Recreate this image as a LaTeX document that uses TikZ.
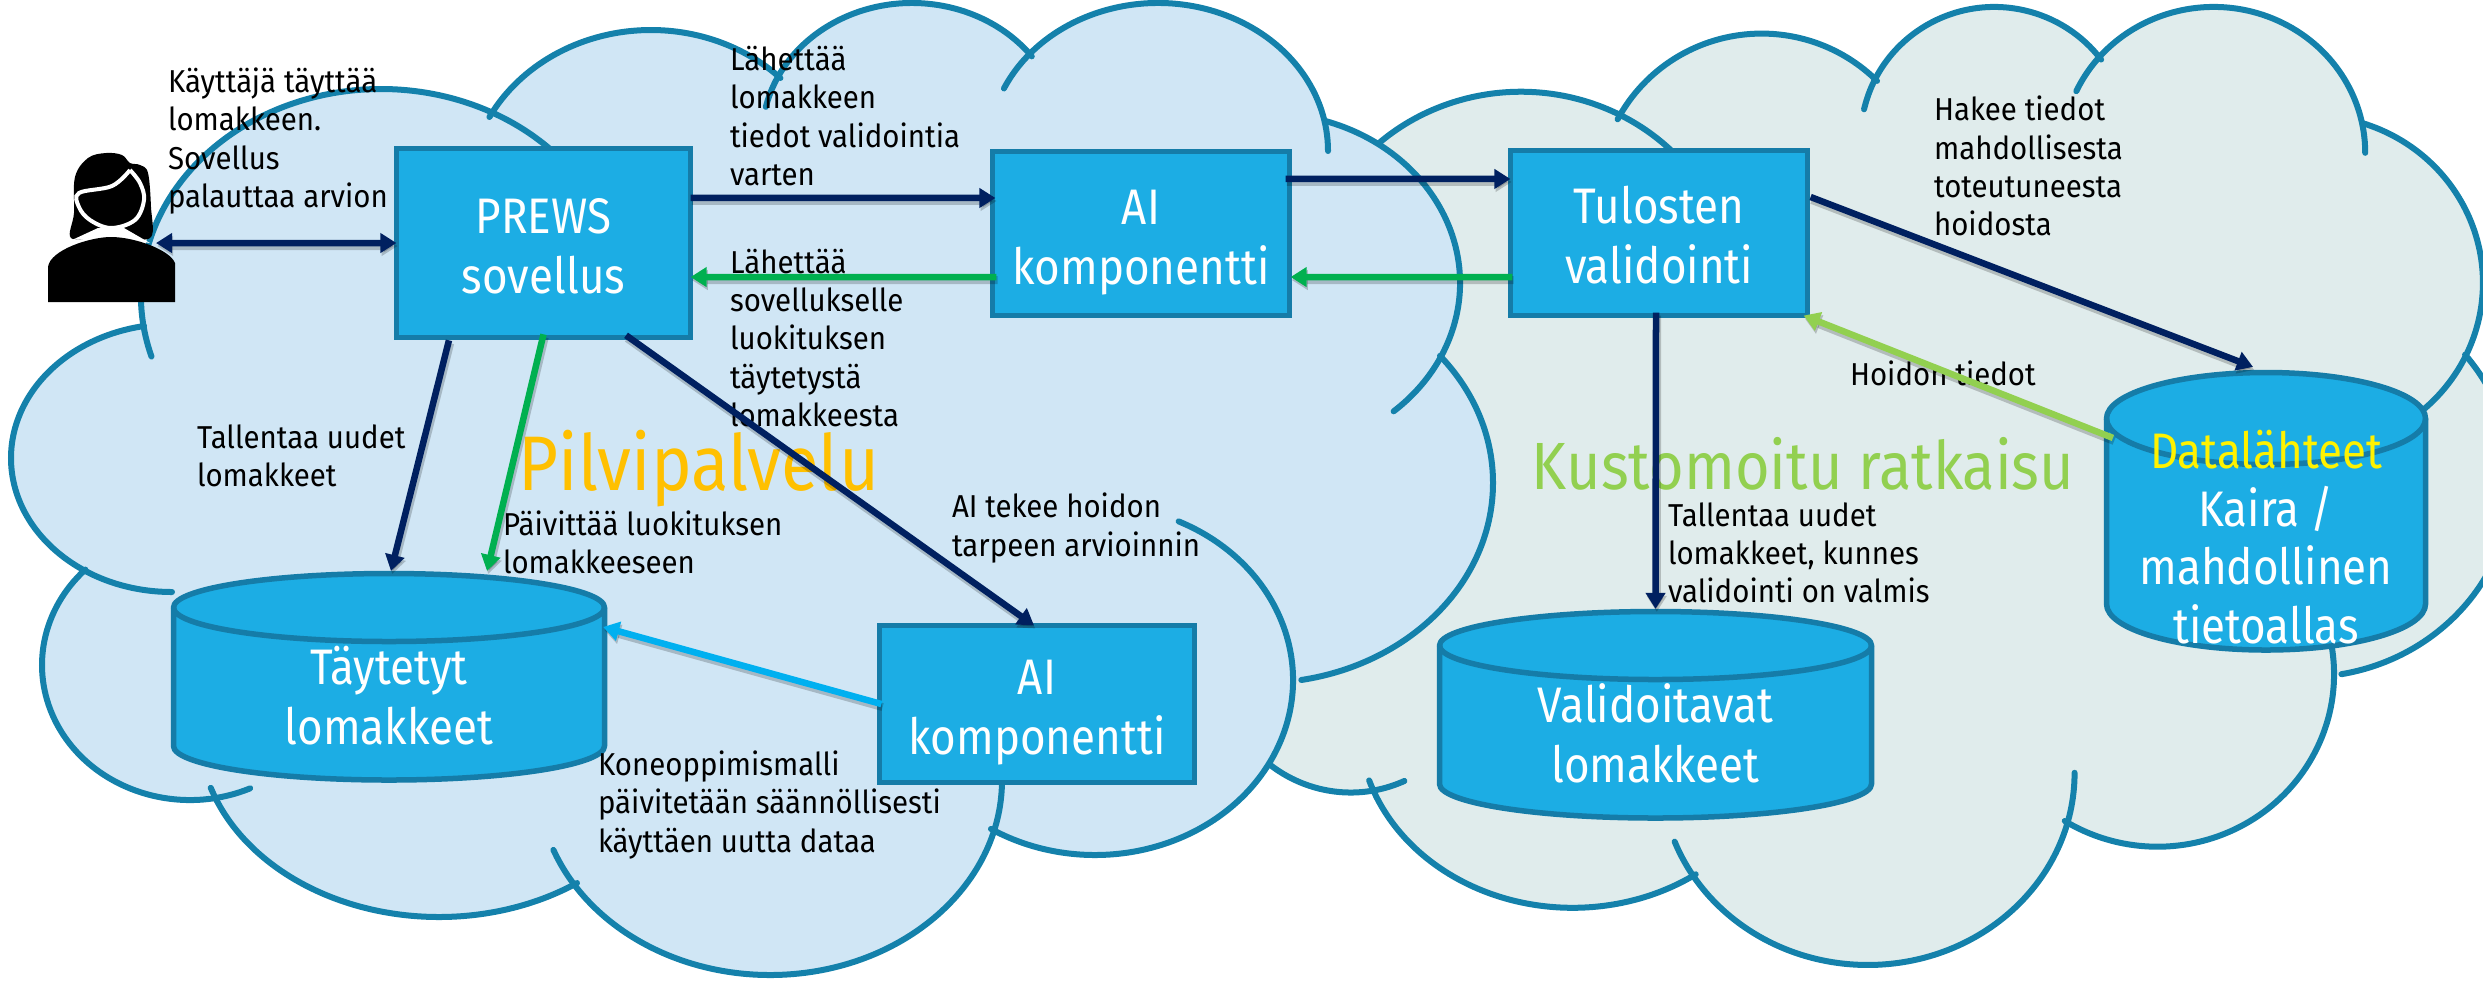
\documentclass[tikz,border=0pt]{standalone}
\usepackage{fontspec}
\setmainfont{Fira Sans}
\newfontfamily\notefont[FakeStretch=.93]{Fira Sans}
\newfontfamily\boxfont[FakeStretch=.88]{Fira Sans}
\newfontfamily\bigfont[FakeStretch=.89]{Fira Sans}
\usetikzlibrary{arrows.meta}
\definecolor{boxfill}{HTML}{1CADE4}
\definecolor{boxline}{HTML}{157CA8}
\definecolor{cloudline}{HTML}{1481AB}
\definecolor{cloudL}{HTML}{D0E6F5}
\definecolor{cloudR}{HTML}{E0ECEC}
\definecolor{navy}{HTML}{002060}
\definecolor{greenA}{HTML}{00B050}
\definecolor{greenB}{HTML}{92D050}
\definecolor{lblue}{HTML}{00B0F0}
\definecolor{gold}{HTML}{FFC000}
\newcommand{\topst}{\rule{0pt}{1em}}
\newcommand{\topbx}{\rule{0pt}{\dimexpr1em+.04cm\relax}}
\newcommand{\botst}{\rule[-.25em]{0pt}{.5em}}
\tikzset{
  lobe/.style={draw=cloudline,line width=.06cm,line cap=round,line join=round},
  procbox/.style={draw=boxline,fill=boxfill,line width=.055cm,rectangle,inner sep=0pt,outer sep=0pt,text=white,align=center,font=\boxfont\fontsize{14.2}{17}\selectfont},
  cantext/.style={rectangle,inner sep=0pt,outer sep=0pt,text=white,align=center,font=\boxfont\fontsize{14.2}{17}\selectfont},
  canshape/.style={draw=boxline,fill=boxfill,line width=.055cm,line join=round},
  note/.style={inner sep=0pt,outer sep=0pt,text=black,align=left,anchor=west,font=\notefont\fontsize{9}{10.85}\selectfont},
  big/.style={inner sep=0pt,outer sep=0pt,anchor=center,font=\bigfont\fontsize{22}{26}\selectfont},
  bigb/.style={inner sep=0pt,outer sep=0pt,anchor=center,font=\bigfont\fontsize{19}{23}\selectfont},
  conn/.style={line width=.065cm,-{Triangle[length=.16cm,width=.19cm]},
     preaction={draw=black,opacity=.2,line width=.08cm,transform canvas={xshift=.012cm,yshift=-.03cm}}},
  connb/.style={line width=.065cm,{Triangle[length=.16cm,width=.19cm]}-{Triangle[length=.16cm,width=.19cm]},
     preaction={draw=black,opacity=.2,line width=.08cm,transform canvas={xshift=.012cm,yshift=-.03cm}}},
}
\newcommand{\candraw}[5]{%
  \draw[canshape] ({#1-#3},{#2+#4}) arc[start angle=180,end angle=360,x radius=#3,y radius=#4]
     -- ({#1+#3},{#5-#4}) arc[start angle=0,end angle=180,x radius=#3,y radius=#4] -- cycle;
  \draw[canshape,fill=none] ({#1-#3},{#2+#4}) arc[start angle=180,end angle=0,x radius=#3,y radius=#4];
}
% one lobe: cx cy rx ry start end
\newcommand{\seg}[6]{({#1+#3*cos(#5)},{#2+#4*sin(#5)}) arc[start angle=#5,end angle=#6,x radius=#3,y radius=#4]}
\newcommand{\cloudbody}[1]{%
  \fill[#1] \seg{381}{296}{240}{207}{171}{298}
   -- \seg{651}{194}{183}{164}{208}{315}
   -- \seg{912}{137}{150}{134}{209}{323}
   -- \seg{1158}{151}{170}{148}{222}{349}
   -- \seg{1267}{283}{193}{170}{287.5}{386.4}
   -- \seg{1261}{483}{232}{200}{-39.5}{80}
   -- \seg{1095}{680}{198}{175}{0}{121.7}
   -- \seg{770}{780}{232}{195}{17.6}{146.3}
   -- \seg{439}{730}{240}{187}{54.9}{162}
   -- \seg{190}{665}{148}{135}{82.6}{225}
   -- \seg{172}{458}{161}{134}{122.6}{260} -- cycle;
  \draw[lobe] \seg{381}{296}{240}{207}{163}{320};
  \draw[lobe] \seg{651}{194}{183}{164}{208}{315};
  \draw[lobe] \seg{912}{137}{150}{134}{193}{323};
  \draw[lobe] \seg{1158}{151}{170}{148}{205}{360};
  \draw[lobe] \seg{1267}{283}{193}{170}{287.5}{409};
  \draw[lobe] \seg{1261}{483}{232}{200}{-39.5}{80};
  \draw[lobe] \seg{1095}{680}{198}{175}{-65}{121.7};
  \draw[lobe] \seg{770}{780}{232}{195}{0}{159};
  \draw[lobe] \seg{439}{730}{240}{187}{54.9}{162};
  \draw[lobe] \seg{190}{665}{148}{135}{66}{225};
  \draw[lobe] \seg{172}{458}{161}{134}{90}{260};
}
\begin{document}
\begin{tikzpicture}[x=.01cm,y=-.01cm]
\useasboundingbox (0,0) rectangle (2483,981);
\clip (0,0) rectangle (2483,981);
% right cloud, the same outline moved and rescaled
\begin{scope}[xshift=11.806cm,yshift=-.04cm,xscale=.8915,yscale=.9856]
\cloudbody{cloudR}
\end{scope}
% left cloud
\cloudbody{cloudL}
% cylinders
\candraw{389}{573.5}{215.5}{34}{780}
\candraw{1655.5}{611.5}{216}{34}{818}
\candraw{2266}{372.5}{159.5}{46}{650}
% person icon
\fill[black] plot[smooth cycle,tension=.6] coordinates {(106,153)(88,158)(75,177)(74,213)(71,238)(98,237)(127,238)(151,237)(151,207)(148,173)(140,165)(130,163)(122,155)};
\draw[white,line width=.04cm,fill=black] plot[smooth,tension=.6] coordinates {(130,170)(112,186)(79,193)(79,207)(90,220)(111,228)(135,220)(144,200)(140,183)(130,170)};
\fill[white] (98,228) -- (124,228) -- (150,243) -- (111,237) -- (72,240) -- cycle;
\fill[black] (48,302) -- (48,267) .. controls (50,250) and (90,237) .. (111,237) .. controls (135,237) and (170,250) .. (175,263) -- (175,302) -- cycle;
\node[rectangle,inner sep=0pt,outer sep=0pt,minimum width=1.27cm,minimum height=1.5cm] (person) at (111.5,227) {};
% boxes
\node[procbox,minimum width=2.94cm,minimum height=1.885cm] (prews) at (543.5,243) {\topbx PREWS\\sovellus\botst};
\node[procbox,minimum width=2.97cm,minimum height=1.64cm] (aitop) at (1141,233.5) {\topbx AI\\komponentti\botst};
\node[procbox,minimum width=2.97cm,minimum height=1.65cm] (tulos) at (1659,233) {\topbx Tulosten\\validointi\botst};
\node[procbox,minimum width=3.15cm,minimum height=1.57cm] (aibot) at (1037,704) {\topbx AI\\komponentti\botst};
\node[cantext,minimum width=4.36cm,minimum height=2.5cm] (tay) at (389,696) {\topst Täytetyt\\lomakkeet\botst};
\node[cantext,minimum width=4.37cm,minimum height=2.5cm] (val) at (1655.5,734) {\topst Validoitavat\\lomakkeet\botst};
\node[cantext,minimum width=3.24cm,minimum height=3.34cm,font=\boxfont\fontsize{14.2}{16.6}\selectfont] (data) at (2266,537) {\topst\textcolor{yellow}{Datalähteet}\\Kaira /\\mahdollinen\\tietoallas\botst};
% labels
\node[note] (t1) at (168,141) {Käyttäjä täyttää\\lomakkeen.\\Sovellus\\palauttaa arvion};
\node[note] (t2) at (730,116) {Lähettää\\lomakkeen\\tiedot validointia\\varten};
\node[note] (t3) at (730,338) {Lähettää\\sovellukselle\\luokituksen\\täytetystä\\lomakkeesta};
\node[note] (t4) at (197,456) {Tallentaa uudet\\lomakkeet};
\node[note] (t5) at (503,542) {Päivittää luokituksen\\lomakkeeseen};
\node[note] (t6) at (952,528) {AI tekee hoidon\\tarpeen arvioinnin};
\node[note] (t7) at (598,805) {Koneoppimismalli\\päivitetään säännöllisesti\\käyttäen uutta dataa};
\node[note] (t8) at (1934,166) {Hakee tiedot\\mahdollisesta\\toteutuneesta\\hoidosta};
\node[note] (t9) at (1850,373) {Hoidon tiedot};
\node[note] (t10) at (1668,553) {Tallentaa uudet\\lomakkeet, kunnes\\validointi on valmis};
\node[big,text=gold] (pil) at (699,469) {Pilvipalvelu};
\node[bigb,text=greenB] (kus) at (1803,464) {Kustomoitu ratkaisu};
% connectors
\draw[connb,navy] ([xshift=-.19cm,yshift=-.16cm]person.east) -- (prews.west);
\draw[conn,navy] ([yshift=.45cm]prews.east) -- ([xshift=.03cm,yshift=.355cm]aitop.west);
\draw[conn,greenA] ([xshift=.04cm,yshift=-.435cm]aitop.west) -- ([yshift=-.34cm]prews.east);
\draw[conn,navy] ([xshift=-.04cm,yshift=.545cm]aitop.east) -- ([yshift=.54cm]tulos.west);
\draw[conn,greenA] ([xshift=.02cm,yshift=-.44cm]tulos.west) -- ([xshift=.01cm,yshift=-.435cm]aitop.east);
\draw[conn,navy] ([xshift=-.945cm,yshift=-.03cm]prews.south) -- ([xshift=.02cm]tay.north);
\draw[conn,greenA] ([yshift=.03cm]prews.south) -- ([xshift=.98cm]tay.north);
\draw[conn,navy] ([xshift=.825cm,yshift=.02cm]prews.south) -- ([xshift=-.03cm]aibot.north);
\draw[conn,lblue] ([xshift=.02cm]aibot.west) -- ([xshift=-.04cm,yshift=.69cm]tay.east);
\draw[conn,navy] ([xshift=-.03cm,yshift=.03cm]tulos.south) -- (val.north);
\draw[conn,navy] ([xshift=.03cm,yshift=.36cm]tulos.east) -- ([xshift=-.13cm,yshift=.03cm]data.north);
\draw[conn,greenB] ([xshift=.09cm,yshift=.99cm]data.west) -- ([xshift=-.04cm]tulos.south east);
\end{tikzpicture}
\end{document}
